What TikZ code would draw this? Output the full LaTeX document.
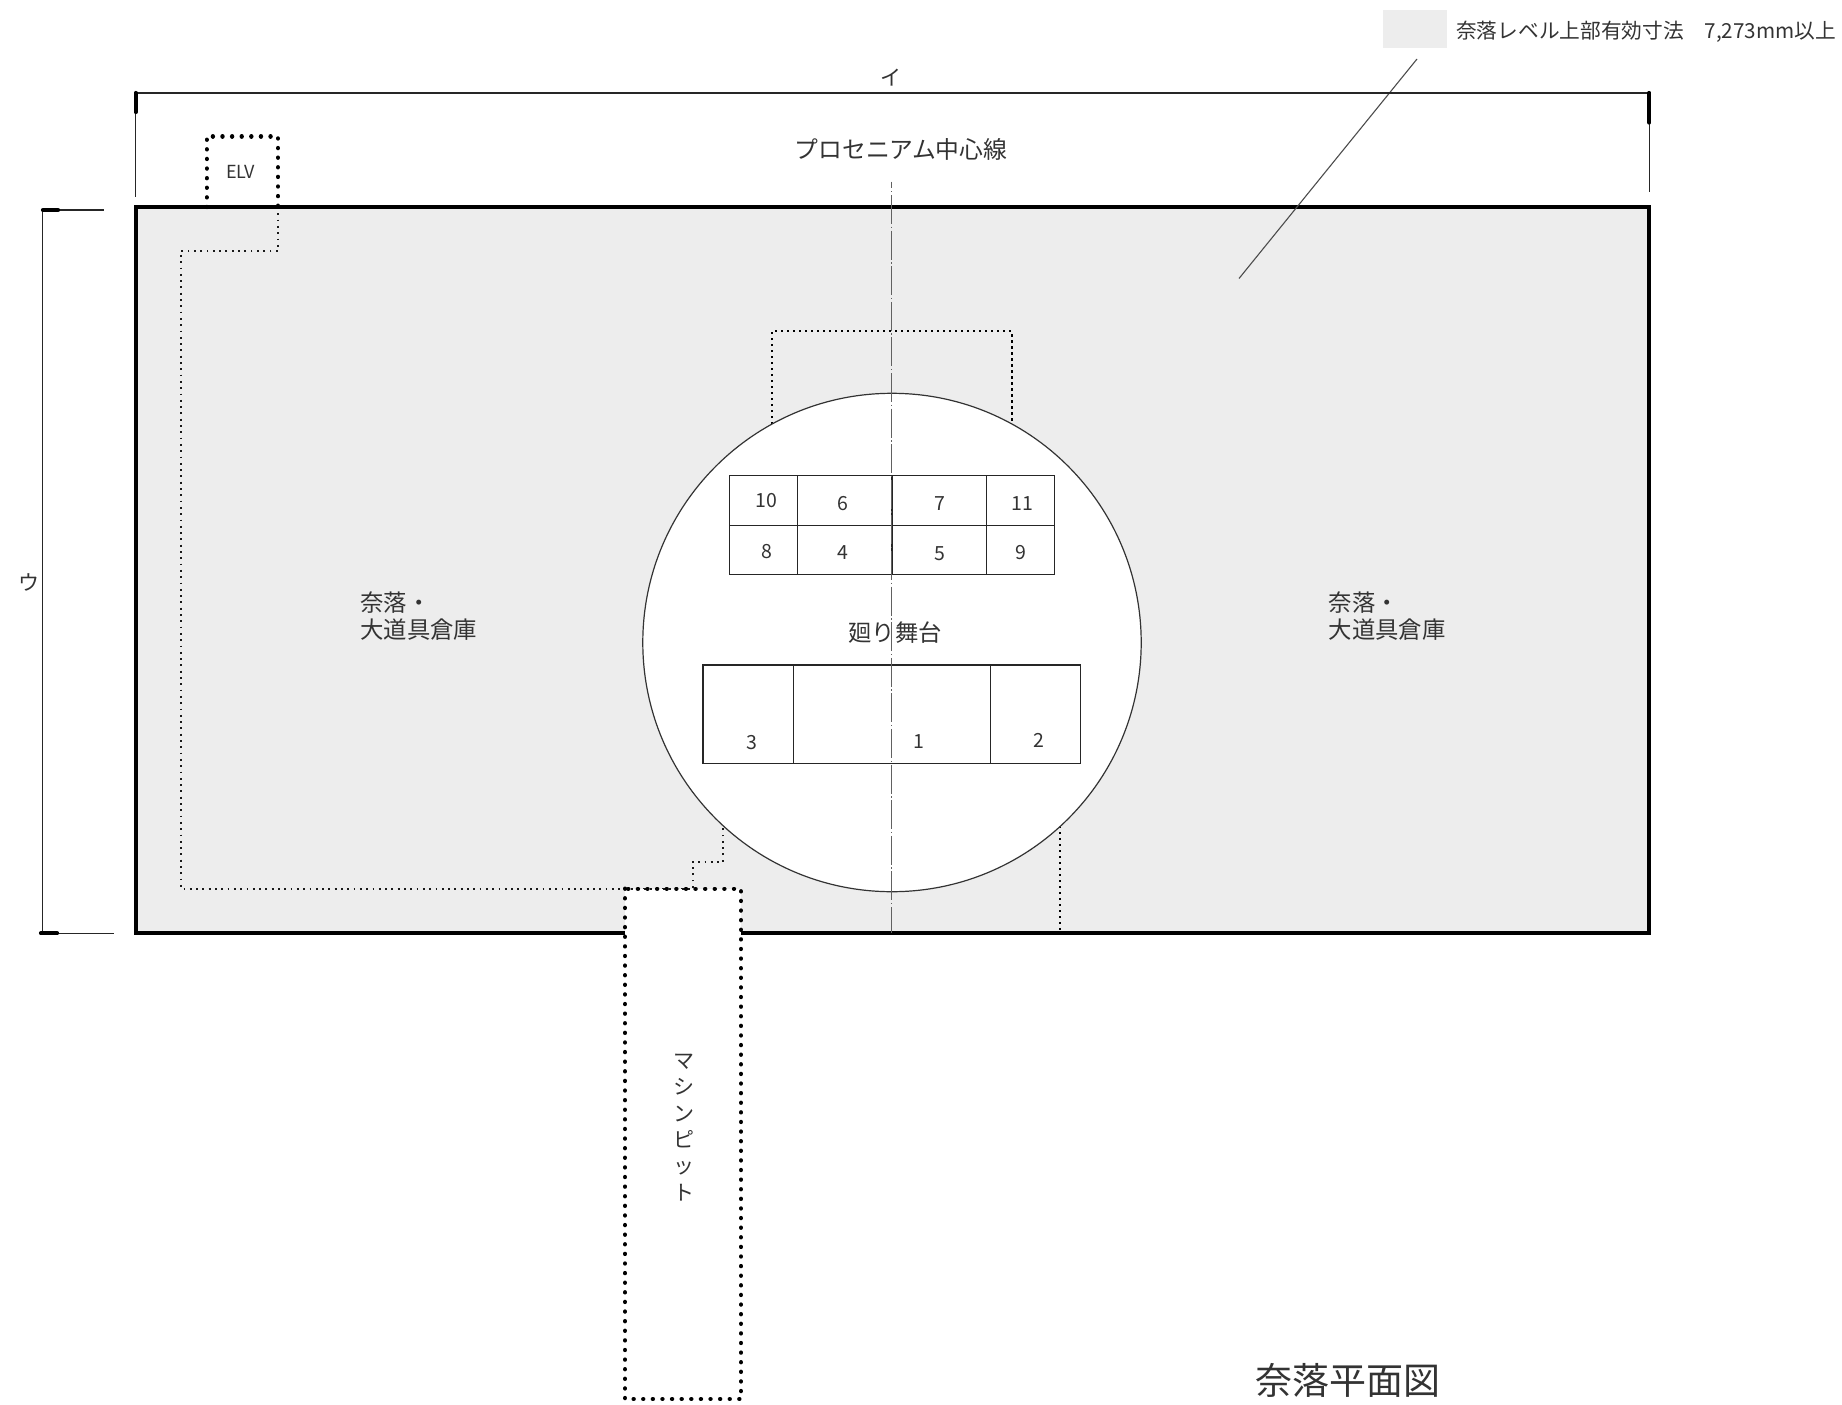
\documentclass[tikz,border=0pt]{standalone}
\usepackage{fontspec}
\setmainfont{Noto Sans CJK JP}
\definecolor{pitfill}{HTML}{EDEDED}
\definecolor{inkc}{HTML}{333333}
\newcommand{\fs}[1]{\fontsize{#1}{#1}\selectfont}
\tikzset{
  x=1pt,y=-1pt,
  thinline/.style={line width=1.1pt,color=black!85},
  thickline/.style={line width=4pt,color=black},
  tick/.style={line width=4.2pt,color=black,line cap=round},
  bigdots/.style={line width=4.4pt,color=black,line cap=round,dash pattern=on 0.01pt off 9.6pt},
  meddots/.style={line width=2.2pt,color=black,dash pattern=on 2.2pt off 3.8pt},
  smalldots/.style={line width=1.8pt,color=black!90,dash pattern=on 1.8pt off 4.5pt},
  centre/.style={line width=1.3pt,color=black!62,dash pattern=on 29pt off 2.5pt on 1.5pt off 2.6pt,dash phase=22.25pt},
  cell/.style={line width=1.3pt,color=black!85},
  lab/.style={inner sep=0pt,text=inkc,font=\fs{23}},
  num/.style={inner sep=0pt,text=inkc,font=\fs{19.5}},
}
\begin{document}
\begin{tikzpicture}
\useasboundingbox (0,0) rectangle (1842,1405);
% legend
\fill[pitfill] (1383,10) rectangle (1447,48);
\node[lab,font=\fs{20.7},anchor=west] (legend) at (1456,32) {奈落レベル上部有効寸法　7,273mm以上};
\coordinate (leadA) at (1417,59);
\coordinate (leadB) at (1239,278.5);
% main area
\fill[pitfill] (135.7,207) rectangle (1649.3,933.3);
% ELV and thin dotted
\draw[smalldots] (278,207) -- (278,250.7) -- (181,250.7) -- (181,888.7) -- (692.7,888.7) -- (692.7,861.7) -- (723.3,861.7) -- (723.3,826);
\draw[meddots] (772,424) -- (772,331) -- (1011.7,331) -- (1011.7,424);
\draw[meddots] (1060.3,826) -- (1060.3,933);
% border
\draw[thickline,line join=miter] (135.7,207) rectangle (1649.3,933.3);
% circle
\node[circle,draw=black!80,fill=white,line width=1.2pt,minimum size=498.4pt,inner sep=0pt] (stage) at (892,642.5) {};
% machine pit
\fill[white] (625,888.7) rectangle (741,1399);
\draw[smalldots] (625,888.7) -- (692.7,888.7);
\draw[bigdots] (625,888.7) rectangle (741,1399);
% elv
\draw[bigdots] (206.7,207) -- (206.7,136.3) -- (278,136.3) -- (278,207);
\node[inner sep=0pt,text=inkc,font=\fs{18}] (elv) at (240.7,171.7) {ELV};
% tables
\draw[cell] (729.3,475.7) rectangle (1054.7,574.3);
\draw[cell] (729.3,525.3) -- (1054.7,525.3);
\draw[cell] (797.3,475.7) -- (797.3,574.3);
\draw[cell] (892,475.7) -- (892,574.3);
\draw[cell] (986.3,475.7) -- (986.3,574.3);
\draw[cell] (703,665) rectangle (1080.7,763.3);
\draw[cell] (793.7,665) -- (793.7,763.3);
\draw[cell] (990.3,665) -- (990.3,763.3);
% centre line
\draw[centre] (891.8,181.7) -- (891.8,933);
% leader
\draw[line width=1.1pt,color=black!70] (leadA) -- (leadB);
% dimension lines
\draw[thinline] (135.7,93) -- (1649.3,93);
\draw[thinline] (135.7,93) -- (135.7,197);
\draw[thinline] (1649.3,93) -- (1649.3,192);
\draw[tick] (135.7,93) -- (135.7,112);
\draw[tick] (1649.3,93) -- (1649.3,122.5);
\draw[thinline] (42.7,210) -- (42.7,933.3);
\draw[thinline] (42.7,210) -- (104,210);
\draw[thinline] (42.7,933.3) -- (114,933.3);
\draw[tick] (43,210) -- (58,210);
\draw[tick] (41,933.3) -- (57,933.3);
% labels
\node[lab,font=\fs{21}] (i) at (890.5,78) {イ};
\node[lab,font=\fs{21}] (u) at (29.5,582) {ウ};
\node[lab,font=\fs{23.8},anchor=center] (proc) at (901,149) {プロセニアム中心線};
\node[lab,anchor=west,align=left,font=\fs{23.4}] (naraku1) at (360,616.5) {奈落・\\[3.5pt]大道具倉庫};
\node[lab,anchor=west,align=left,font=\fs{23.4}] (naraku2) at (1328.5,616.5) {奈落・\\[3.5pt]大道具倉庫};
\node[lab,font=\fs{23.4}] (mawari) at (895,633) {廻り舞台};
\node[lab,font=\fs{21},align=center] (pit) at (684,1127.5) {マ\\[5.3pt]シ\\[5.3pt]ン\\[5.3pt]ピ\\[5.3pt]ッ\\[5.3pt]ト};
\node[lab,font=\fs{37}] (title) at (1348,1380) {奈落平面図};
% numbers
\node[num] (n10) at (766,500.8) {10};
\node[num] (n6) at (843,503.2) {6};
\node[num] (n7) at (939.5,503.8) {7};
\node[num] (n11) at (1022.5,503.8) {11};
\node[num] (n8) at (766.5,551.8) {8};
\node[num] (n4) at (843,552.2) {4};
\node[num] (n5) at (939.5,553.5) {5};
\node[num] (n9) at (1020.5,552.2) {9};
\node[num] (n3) at (752,742.2) {3};
\node[num] (n1) at (919,741.5) {1};
\node[num] (n2) at (1039.3,740.8) {2};
\end{tikzpicture}
\end{document}
